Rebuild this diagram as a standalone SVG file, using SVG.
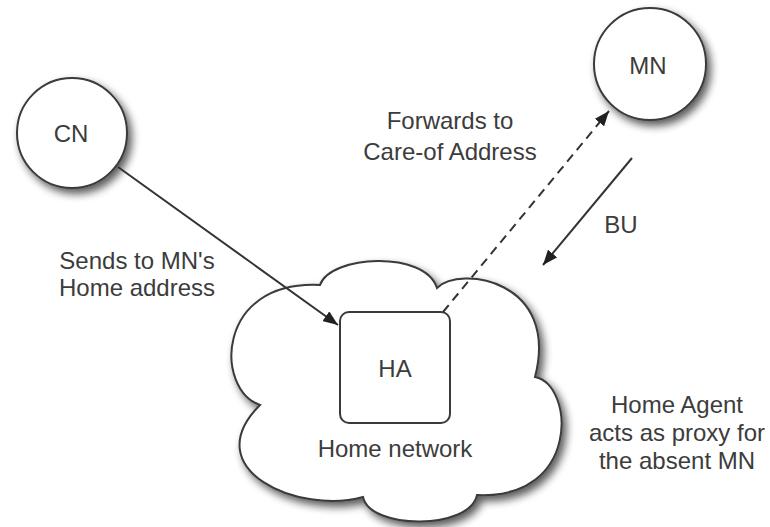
<svg xmlns="http://www.w3.org/2000/svg" width="770" height="527" viewBox="0 0 770 527">
  <defs>
    <filter id="shadow" x="-20%" y="-20%" width="150%" height="150%">
      <feGaussianBlur in="SourceAlpha" stdDeviation="4"/>
      <feOffset dx="4" dy="5" result="blur"/>
      <feComponentTransfer><feFuncA type="linear" slope="0.65"/></feComponentTransfer>
      <feMerge><feMergeNode/><feMergeNode in="SourceGraphic"/></feMerge>
    </filter>
    <marker id="arrow" markerUnits="userSpaceOnUse" markerWidth="16" markerHeight="12" refX="15" refY="6" orient="auto">
      <path d="M0,0 L15,6 L0,12 z" fill="#222"/>
    </marker>
    <style>
      .shape { fill: #fff; stroke: #3a3a3a; stroke-width: 2; }
      .label { font-family: "Liberation Sans", Arial, sans-serif; font-size: 24px; fill: #3c3c3c; text-anchor: middle; }
      .edge { fill: none; stroke: #333; stroke-width: 2; marker-end: url(#arrow); }
      .dashed { stroke-dasharray: 9 6; }
    </style>
  </defs>

  <rect width="770" height="527" fill="#fff"/>

  <!-- Home network cloud -->
  <g id="home-network">
    <path class="shape" filter="url(#shadow)" d="M260,405 C215,390 215,280 320,285 C330,255 425,250 437,288 C460,265 560,280 535,377 C575,385 580,500 477,495 C470,530 370,530 363,497 C300,515 195,470 260,405 Z"/>
    <text class="label" x="395" y="457">Home network</text>
  </g>

  <!-- Home agent -->
  <g id="ha">
    <rect class="shape" x="340" y="312" width="110" height="111" rx="9"/>
    <text class="label" x="395" y="377">HA</text>
  </g>

  <!-- Correspondent node -->
  <g id="cn">
    <circle class="shape" filter="url(#shadow)" cx="72" cy="133" r="55"/>
    <text class="label" x="71" y="142">CN</text>
  </g>

  <!-- Mobile node -->
  <g id="mn">
    <circle class="shape" filter="url(#shadow)" cx="650" cy="64" r="56"/>
    <text class="label" x="648" y="74">MN</text>
  </g>

  <!-- Connectors -->
  <g id="connectors">
    <line class="edge" x1="118" y1="167" x2="338" y2="325"/>
    <line class="edge dashed" x1="443" y1="312" x2="609" y2="111"/>
    <line class="edge" x1="632" y1="158" x2="543" y2="265"/>
  </g>

  <!-- Annotations -->
  <g id="annotations">
    <text class="label" x="137" y="269">Sends to MN's</text>
    <text class="label" x="137" y="296">Home address</text>
    <text class="label" x="450" y="129">Forwards to</text>
    <text class="label" x="450" y="160">Care-of Address</text>
    <text class="label" x="621" y="233">BU</text>
    <text class="label" x="677" y="413">Home Agent</text>
    <text class="label" x="677" y="441">acts as proxy for</text>
    <text class="label" x="677" y="469">the absent MN</text>
  </g>
</svg>
